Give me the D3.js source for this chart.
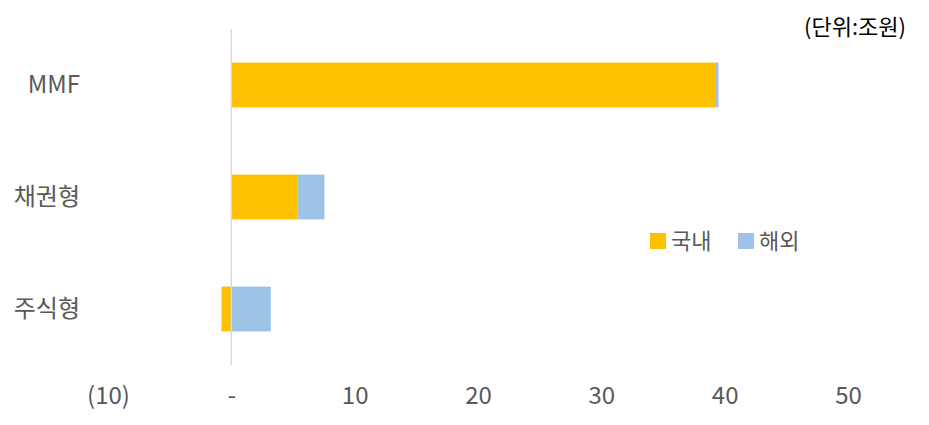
<!DOCTYPE html>
<html><head><meta charset="utf-8">
<script src="https://cdn.jsdelivr.net/npm/d3@7"></script>
<style>body{margin:0;background:#fff}text{font-family:"Noto Sans CJK KR","Noto Sans",sans-serif}</style>
</head><body><svg id="c" width="929" height="425"></svg>
<script>
const categories=["MMF","채권형","주식형"];
const domestic=[39.3,5.35,-0.8];
const overseas=[0.2,2.2,3.2];
const seriesNames=["국내","해외"];
const colors=["#FFC000","#9DC3E6"];
const tickValues=[-10,0,10,20,30,40,50];
const tickLabels=["(10)","-","10","20","30","40","50"];

const svg=d3.select("#c");
const x=d3.scaleLinear().domain([-10,50]).range([108,848]);
const y=d3.scaleBand().domain(categories).range([29,365]).paddingInner(0.6).paddingOuter(0.3);

categories.forEach((c,i)=>{
  const d=domestic[i],o=overseas[i];
  const segs=[];
  if(d>=0){segs.push([0,d,0]);segs.push([d,d+o,1]);}
  else{segs.push([d,0,0]);segs.push([0,o,1]);}
  segs.forEach(s=>{
    svg.append("rect").attr("x",x(Math.min(s[0],s[1]))).attr("width",Math.abs(x(s[1])-x(s[0])))
      .attr("y",y(c)).attr("height",y.bandwidth()).attr("fill",colors[s[2]]);
  });
  svg.append("text").attr("x",80).attr("y",y(c)+y.bandwidth()/2).attr("dy","0.35em")
    .attr("text-anchor","end").attr("font-size",24).attr("fill","#595959").text(c);
});
svg.append("line").attr("x1",x(0)).attr("x2",x(0)).attr("y1",29).attr("y2",365).attr("stroke","#d9d9d9").attr("stroke-width",1.5);

const ax=svg.append("g").attr("transform","translate(0,365)")
  .call(d3.axisBottom(x).tickValues(tickValues).tickFormat((d,i)=>tickLabels[i]).tickSize(0).tickPadding(22));
ax.select(".domain").remove();
ax.selectAll("text").attr("font-size",24).attr("fill","#595959").style("font-family",'"Noto Sans CJK KR",sans-serif');

svg.append("text").attr("x",906).attr("y",35).attr("text-anchor","end").attr("font-size",22).attr("fill","#000").text("(단위:조원)");

const lg=svg.append("g").attr("transform","translate(650,241)");
seriesNames.forEach((n,i)=>{
  const gx=i*88;
  lg.append("rect").attr("x",gx).attr("y",-8).attr("width",16).attr("height",16).attr("fill",colors[i]);
  lg.append("text").attr("x",gx+21).attr("y",0).attr("dy","0.35em").attr("font-size",22).attr("fill","#595959").text(n);
});
</script></body></html>
